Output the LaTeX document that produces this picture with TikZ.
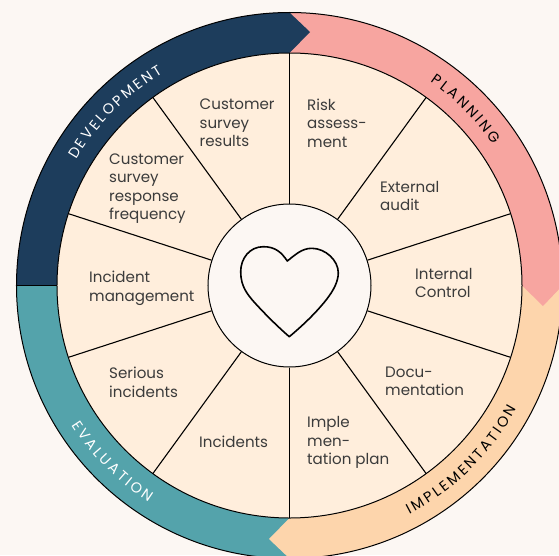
\documentclass[tikz,border=0pt]{standalone}
\usepackage{fontspec}
\setmainfont{Poppins}
\usetikzlibrary{decorations.text}
\definecolor{pagebg}{HTML}{FCF7F3}
\definecolor{segfill}{HTML}{FFEEDC}
\definecolor{devcol}{HTML}{1D3D5C}
\definecolor{plancol}{HTML}{F7A5A0}
\definecolor{implcol}{HTML}{FDD5AC}
\definecolor{evalcol}{HTML}{54A3AB}
\definecolor{inkcol}{HTML}{3B3B3B}
\newcommand{\bandfont}{\fontsize{14.5}{16}\selectfont}
\tikzset{
  rim/.style={draw=black,line width=1pt},
  spoke/.style={draw=black,line width=1.1pt},
  seglabel/.style={anchor=north west,inner sep=0pt,align=left,text=inkcol,font=\fontsize{15.1}{18.5}\selectfont},
  hubdisc/.style={circle,draw=black,line width=1pt,fill=pagebg,minimum size=163pt,inner sep=0pt},
  bandtext/.style={decorate,decoration={text along path,text align=fit to path,text={#1}}}
}
\begin{document}
\begin{tikzpicture}[x=1pt,y=1pt]
\def\ri{232.5}\def\ro{273}
\path[use as bounding box] (-289.5,-269.5) rectangle (269.5,285.5);
\clip (-289.5,-269.5) rectangle (269.5,285.5);
\fill[pagebg] (-289.5,-269.5) rectangle (269.5,285.5);
% bands
\fill[evalcol] (180:\ri) arc[start angle=180,end angle=270,radius=\ri] -- (270:\ro) arc[start angle=270,end angle=180,radius=\ro] -- cycle;
\fill[implcol] (270:\ri) arc[start angle=270,end angle=360,radius=\ri] -- (360:\ro) arc[start angle=360,end angle=270,radius=\ro] -- (-20.5,-253.5) -- cycle;
\fill[plancol] (0:\ri) arc[start angle=360,end angle=450,radius=\ri] -- (90:\ro) arc[start angle=90,end angle=0,radius=\ro] -- (253.5,-20.5) -- cycle;
\fill[devcol] (180:\ri) arc[start angle=180,end angle=90,radius=\ri] -- (20.5,253.5) -- (90:\ro) arc[start angle=90,end angle=180,radius=\ro] -- cycle;
% wheel
\path[fill=segfill] (0,0) circle[radius=\ri];
\draw[rim] (0,0) circle[radius=\ri];
\draw[rim] (0,0) circle[radius=\ro];
\coordinate (bl) at (180:\ri);
\coordinate (bo) at (180:\ro);
\draw[rim] (bl) -- (bo);
% hub
\node[hubdisc] (hub) at (0,0) {};
\foreach \a in {18,54,90,126,162,198,234,270,306,342}{
  \coordinate (rimpt\a) at (\a:\ri);
  \draw[spoke] (hub.\a) -- (rimpt\a);
}
% heart
\draw[black,line width=1.6pt,line join=round]
  (-2.2,24.5) .. controls (-8,33) and (-14,38.8) .. (-26.2,38.8)
  .. controls (-40,38.8) and (-48.8,27) .. (-48.8,13.8)
  .. controls (-48.8,-1) and (-42,-9) .. (-35,-17)
  .. controls (-24,-29) and (-12,-41) .. (-0.2,-51.2)
  .. controls (12,-41) and (26,-28) .. (37,-14)
  .. controls (44,-5) and (48.8,4) .. (48.8,12.8)
  .. controls (48.8,25) and (36,37.2) .. (22.2,37.2)
  .. controls (12,37.2) and (5,30) .. (-2.2,24.5) -- cycle;
% labels
\node[seglabel] (l1) at (-90,186.5) {Customer\\survey\\results};
\node[seglabel] (l2) at (17.5,187) {Risk\\assess-\\ment};
\node[seglabel] (l3) at (90.5,104.5) {External\\audit};
\node[seglabel] (l4) at (125.5,17.5) {Internal\\Control};
\node[seglabel] (l5) at (95.5,-81) {Docu-\\mentation};
\node[seglabel] (l6) at (17.5,-131) {Imple\\men-\\tation plan};
\node[seglabel] (l7) at (-90.5,-150) {Incidents};
\node[seglabel] (l8) at (-180.5,-81.5) {Serious\\incidents};
\node[seglabel] (l9) at (-200.5,14.5) {Incident\\management};
\node[seglabel] (l10) at (-180.5,132) {Customer\\survey\\response\\frequency};
% band texts
\path[bandtext={|\bandfont\color{white}|DEVELOPMENT}] (149.5:247.5) arc[start angle=149.5,end angle=120.8,radius=247.5];
\path[bandtext={|\bandfont\color{black}|PLANNING}] (55.4:247.5) arc[start angle=55.4,end angle=34.6,radius=247.5];
\path[bandtext={|\bandfont\color{black}|IMPLEMENTATION}] (-62.4:258.5) arc[start angle=-62.4,end angle=-28.5,radius=258.5];
\path[bandtext={|\bandfont\color{white}|EVALUATION}] (212.7:258.5) arc[start angle=212.7,end angle=237,radius=258.5];
\end{tikzpicture}
\end{document}
